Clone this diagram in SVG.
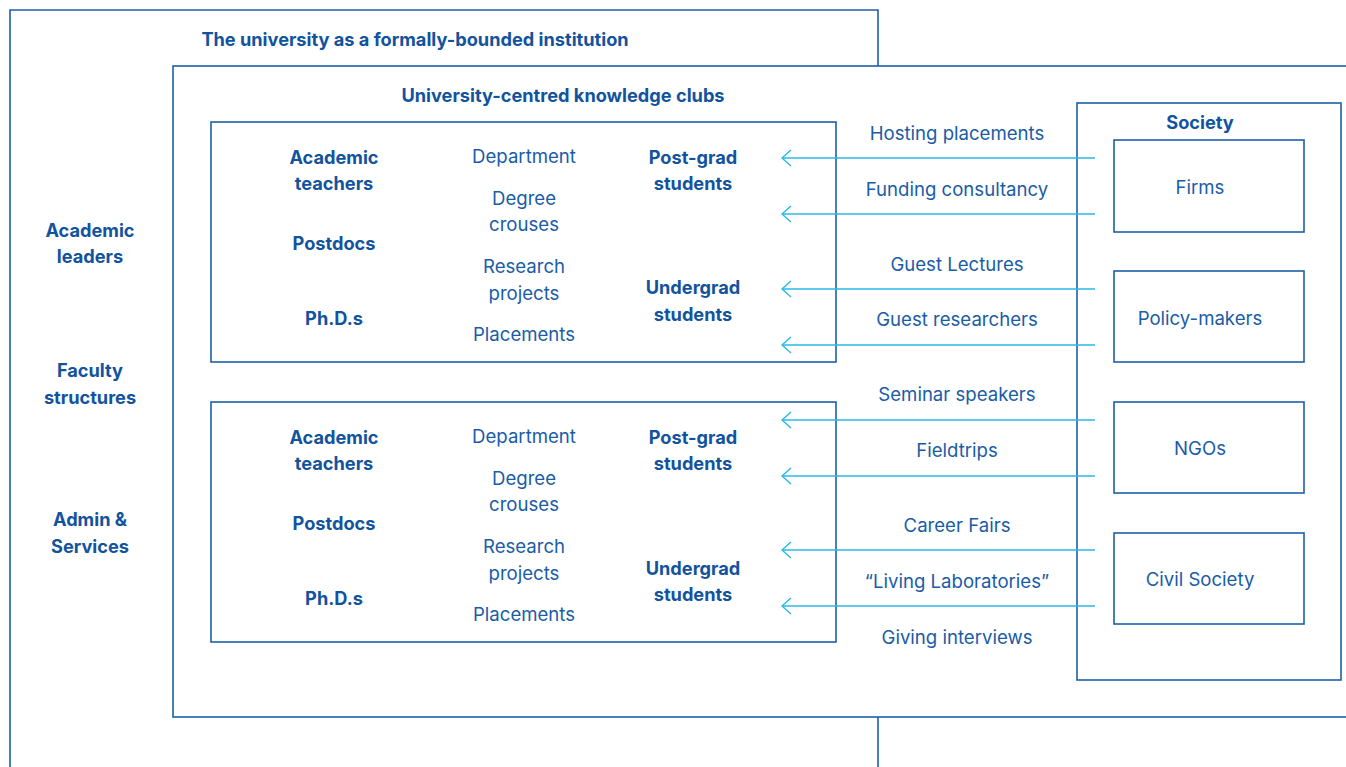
<svg xmlns="http://www.w3.org/2000/svg" width="1346" height="767" viewBox="0 0 1346 767">
<defs>
<style>
.box{fill:#fff;stroke:#1f5fa8;stroke-width:1.6}
.t{font-family:Inter,"Liberation Sans",sans-serif;font-size:18.6px;fill:#1a5ca6;text-anchor:middle;dominant-baseline:central}
.b{font-weight:700;font-size:18.2px;fill:#12539e}
.c{stroke:#2bb8e6;stroke-width:1.4;fill:none}
</style>
<marker id="ah" markerWidth="14" markerHeight="18" refX="11" refY="9" orient="auto" markerUnits="userSpaceOnUse">
<path d="M2,1 L11,9 L2,17" fill="none" stroke="#2bb8e6" stroke-width="1.4"/>
</marker>
</defs>
<rect width="1346" height="767" fill="#fff"/>
<g id="university">
<path d="M10,780 V10 H878 V780" class="box" fill="none"/>
<text class="t b" x="415" y="39">The university as a formally-bounded institution</text>
</g>
<g id="clubs">
<rect class="box" x="173" y="66" width="1200" height="651"/>
<text class="t b" x="563" y="95">University-centred knowledge clubs</text>
</g>
<g id="left-labels">
<text class="t b" x="90" y="230">Academic</text><text class="t b" x="90" y="256">leaders</text>
<text class="t b" x="90" y="370">Faculty</text><text class="t b" x="90" y="397">structures</text>
<text class="t b" x="90" y="519">Admin &amp;</text><text class="t b" x="90" y="546">Services</text>
</g>
<g id="club1">
<rect class="box" x="211" y="122" width="625" height="240"/>
<text class="t b" x="334" y="157">Academic</text><text class="t b" x="334" y="183">teachers</text>
<text class="t b" x="334" y="243">Postdocs</text>
<text class="t b" x="334" y="318">Ph.D.s</text>
<text class="t" x="524" y="156">Department</text>
<text class="t" x="524" y="198">Degree</text><text class="t" x="524" y="224">crouses</text>
<text class="t" x="524" y="266">Research</text><text class="t" x="524" y="293">projects</text>
<text class="t" x="524" y="334">Placements</text>
<text class="t b" x="693" y="157">Post-grad</text><text class="t b" x="693" y="183">students</text>
<text class="t b" x="693" y="287">Undergrad</text><text class="t b" x="693" y="314">students</text>
</g>
<g id="club2">
<rect class="box" x="211" y="402" width="625" height="240"/>
<text class="t b" x="334" y="437">Academic</text><text class="t b" x="334" y="463">teachers</text>
<text class="t b" x="334" y="523">Postdocs</text>
<text class="t b" x="334" y="598">Ph.D.s</text>
<text class="t" x="524" y="436">Department</text>
<text class="t" x="524" y="478">Degree</text><text class="t" x="524" y="504">crouses</text>
<text class="t" x="524" y="546">Research</text><text class="t" x="524" y="573">projects</text>
<text class="t" x="524" y="614">Placements</text>
<text class="t b" x="693" y="437">Post-grad</text><text class="t b" x="693" y="463">students</text>
<text class="t b" x="693" y="568">Undergrad</text><text class="t b" x="693" y="594">students</text>
</g>
<g id="society">
<rect class="box" x="1077" y="103" width="264" height="577"/>
<text class="t b" x="1200" y="122">Society</text>
</g>
<g id="firms"><rect class="box" x="1114" y="140" width="190" height="92"/><text class="t" x="1200" y="187">Firms</text></g>
<g id="policy"><rect class="box" x="1114" y="271" width="190" height="91"/><text class="t" x="1200" y="318">Policy-makers</text></g>
<g id="ngos"><rect class="box" x="1114" y="402" width="190" height="91"/><text class="t" x="1200" y="448">NGOs</text></g>
<g id="civil"><rect class="box" x="1114" y="533" width="190" height="91"/><text class="t" x="1200" y="579">Civil Society</text></g>
<g id="connectors">
<line class="c" x1="1095" y1="158" x2="782" y2="158" marker-end="url(#ah)"/>
<line class="c" x1="1095" y1="214" x2="782" y2="214" marker-end="url(#ah)"/>
<line class="c" x1="1095" y1="289" x2="782" y2="289" marker-end="url(#ah)"/>
<line class="c" x1="1095" y1="345" x2="782" y2="345" marker-end="url(#ah)"/>
<line class="c" x1="1095" y1="420" x2="782" y2="420" marker-end="url(#ah)"/>
<line class="c" x1="1095" y1="476" x2="782" y2="476" marker-end="url(#ah)"/>
<line class="c" x1="1095" y1="550" x2="782" y2="550" marker-end="url(#ah)"/>
<line class="c" x1="1095" y1="606" x2="782" y2="606" marker-end="url(#ah)"/>
<text class="t" x="957" y="133">Hosting placements</text>
<text class="t" x="957" y="189">Funding consultancy</text>
<text class="t" x="957" y="264">Guest Lectures</text>
<text class="t" x="957" y="319">Guest researchers</text>
<text class="t" x="957" y="394">Seminar speakers</text>
<text class="t" x="957" y="450">Fieldtrips</text>
<text class="t" x="957" y="525">Career Fairs</text>
<text class="t" x="957" y="581">“Living Laboratories”</text>
<text class="t" x="957" y="637">Giving interviews</text>
</g>
</svg>
